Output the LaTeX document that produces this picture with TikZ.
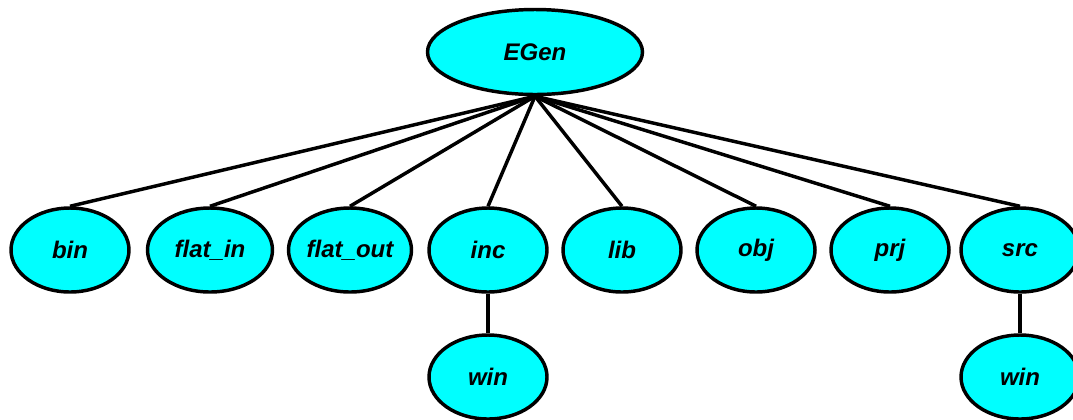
\documentclass[tikz,border=0pt]{standalone}
\usepackage{fontspec}
\setmainfont{Liberation Sans}
\usetikzlibrary{shapes.geometric}
\definecolor{nodecyan}{RGB}{0,255,255}
\begin{document}
\begin{tikzpicture}[x=0.75pt,y=-0.75pt,
  dirnode/.style={ellipse,draw=black,line width=2.6pt,fill=nodecyan,inner sep=0pt,
    minimum width=118*0.75pt,minimum height=84*0.75pt,
    font=\fontsize{18pt}{20pt}\selectfont\bfseries\itshape},
  link/.style={draw=black,line width=2.6pt}]
\useasboundingbox (0,0) rectangle (1073,419);
\node[dirnode,minimum width=215*0.75pt,minimum height=85*0.75pt] (egen) at (535,52) {EGen};
\node[dirnode] (bin) at (70,250) {bin};
\node[dirnode,minimum width=125*0.75pt] (flatin) at (210,250) {flat\_in};
\node[dirnode,minimum width=123*0.75pt] (flatout) at (350,250) {flat\_out};
\node[dirnode] (inc) at (488,250) {inc};
\node[dirnode] (lib) at (622,250) {lib};
\node[dirnode] (obj) at (756,250) {obj};
\node[dirnode] (prj) at (890,250) {prj};
\node[dirnode] (src) at (1020,250) {src};
\node[dirnode] (win1) at (488,377) {win};
\node[dirnode] (win2) at (1020,377) {win};
\foreach \c in {bin,flatin,flatout,inc,lib,obj,prj,src}
  \draw[link] (egen.south) -- (\c.north);
\draw[link] (inc.south) -- (win1.north);
\draw[link] (src.south) -- (win2.north);
\end{tikzpicture}
\end{document}
